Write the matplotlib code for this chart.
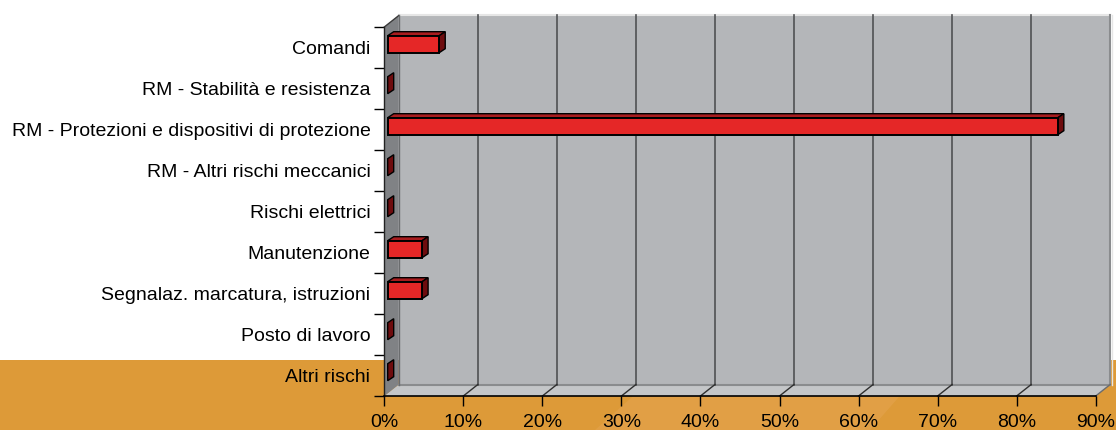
import matplotlib
matplotlib.use("Agg")
import matplotlib.pyplot as plt
from matplotlib.patches import Polygon, Rectangle

plt.rcParams['font.family'] = ['Liberation Sans', 'DejaVu Sans']

categories = [
    "Comandi",
    "RM - Stabilità e resistenza",
    "RM - Protezioni e dispositivi di protezione",
    "RM - Altri rischi meccanici",
    "Rischi elettrici",
    "Manutenzione",
    "Segnalaz. marcatura, istruzioni",
    "Posto di lavoro",
    "Altri rischi",
]
values = [6.52, 0.0, 84.78, 0.0, 0.0, 4.35, 4.35, 0.0, 0.0]
xticks = [0, 10, 20, 30, 40, 50, 60, 70, 80, 90]
xtick_labels = [f"{t}%" for t in xticks]

W, H, DPI = 1116, 430, 100
fig = plt.figure(figsize=(W / DPI, H / DPI), dpi=DPI)
fig.patch.set_facecolor("white")

# orange decorative band at bottom
fig.patches.append(Rectangle((0, 0), 1, 70 / H, transform=fig.transFigure,
                             facecolor="#DD9A38", edgecolor="none", zorder=-10))
fig.patches.append(Polygon([(595 / W, 0), (870 / W, 0), (905 / W, 40 / H), (640 / W, 40 / H)],
                           closed=True, transform=fig.transFigure,
                           facecolor="#E4A44E", edgecolor="none", zorder=-9, alpha=0.6))

ax_l, ax_r, ax_t, ax_b = 384.3, 1095.7, 27.0, 396.0
ax = fig.add_axes([ax_l / W, (H - ax_b) / H, (ax_r - ax_l) / W, (ax_b - ax_t) / H])
ax.set_zorder(1)
ax.set_xlim(0, 90)
ax.set_ylim(len(categories), 0)
ax.patch.set_alpha(0)

ppx = (ax_r - ax_l) / 90.0          # pixels per percent
ppy = (ax_b - ax_t) / len(categories)  # pixels per category


def dx(px):
    return px / ppx


def dy(px):
    return -px / ppy  # upward in pixels -> smaller y (inverted axis)


n = len(categories)
wx, wy = dx(14.5), dy(11.5)   # wall depth

# back wall
ax.add_patch(Polygon([(wx, wy), (90 + wx, wy), (90 + wx, n + wy), (wx, n + wy)],
                     closed=True, facecolor="#B4B6B9", edgecolor="none", zorder=1, clip_on=False))
# floor
ax.add_patch(Polygon([(0, n), (90, n), (90 + wx, n + wy), (wx, n + wy)],
                     closed=True, facecolor="#C4C6C8", edgecolor="none", zorder=1, clip_on=False))
# side wall
ax.add_patch(Polygon([(0, 0), (0, n), (wx, n + wy), (wx, wy)],
                     closed=True, facecolor="#808285", edgecolor="none", zorder=1, clip_on=False))
# wall edges
ax.plot([wx, 90 + wx], [wy, wy], color="#E6E6E6", lw=1.5, zorder=2, clip_on=False)
ax.plot([90 + wx, 90 + wx], [wy, n + wy], color="#8A8C8E", lw=1.5, zorder=2, clip_on=False)
ax.plot([90 + wx + dx(1.5), 90 + wx + dx(1.5)], [wy, n + wy], color="#E6E6E6", lw=1.0, zorder=2, clip_on=False)
ax.plot([wx, 90 + wx], [n + wy, n + wy], color="#8A8C8E", lw=1.5, zorder=2, clip_on=False)
ax.plot([0, wx], [0, wy], color="#3A3A3A", lw=1.0, zorder=2, clip_on=False)
ax.plot([wx, wx], [wy, n + wy], color="#6A6C6E", lw=1.0, zorder=2, clip_on=False)
ax.plot([90, 90 + wx], [n, n + wy], color="#6A6C6E", lw=1.0, zorder=2, clip_on=False)
# gridlines
for t in xticks[1:-1]:
    ax.plot([t + wx, t + wx], [wy, n + wy], color="#505254", lw=1.2, zorder=2, clip_on=False)
for t in xticks[1:-1]:
    ax.plot([t, t + wx], [n, n + wy], color="#303030", lw=1.0, zorder=2, clip_on=False)

# bars (3D)
fx, fy = dx(3.4), dy(3.3)     # front-face offset from the front plane
bx, by = dx(6.0), dy(4.0)     # bar depth
h = 17.0 / ppy
for i, v in enumerate(values):
    c = i + 0.5
    y0, y1 = c - h / 2 + fy, c + h / 2 + fy
    x0, x1 = 0 + fx, v + fx
    if v > 0:
        ax.add_patch(Polygon([(x0, y0), (x1, y0), (x1 + bx, y0 + by), (x0 + bx, y0 + by)],
                             closed=True, facecolor="#A81C1E", edgecolor="black", lw=1.0,
                             zorder=4, clip_on=False))
        ax.add_patch(Polygon([(x0, y0), (x1, y0), (x1, y1), (x0, y1)],
                             closed=True, facecolor="#E52727", edgecolor="black", lw=1.4,
                             zorder=5, clip_on=False))
    ax.add_patch(Polygon([(x1, y0), (x1 + bx, y0 + by), (x1 + bx, y1 + by), (x1, y1)],
                         closed=True, facecolor="#6E0C0E", edgecolor="black", lw=1.0,
                         zorder=4, clip_on=False))

# axes, ticks, labels
for s in ["top", "right"]:
    ax.spines[s].set_visible(False)
ax.spines["bottom"].set_color("black")
ax.spines["bottom"].set_linewidth(1.2)
ax.spines["bottom"].set_zorder(3)
ax.spines["left"].set_color("#222222")
ax.spines["left"].set_linewidth(1.0)
ax.spines["left"].set_zorder(3)

ax.set_xticks(xticks)
ax.set_xticklabels(xtick_labels, fontsize=14)
ax.tick_params(axis="x", direction="out", length=7, width=1, color="black", pad=6)

ax.set_yticks([i + 0.5 for i in range(n)])
ax.set_yticklabels(categories, fontsize=14)
ax.tick_params(axis="y", which="major", length=0, pad=10)
ax.set_yticks(list(range(n + 1)), minor=True)
ax.tick_params(axis="y", which="minor", direction="out", length=7, width=1, color="black")

fig.savefig("out.png", dpi=DPI)
